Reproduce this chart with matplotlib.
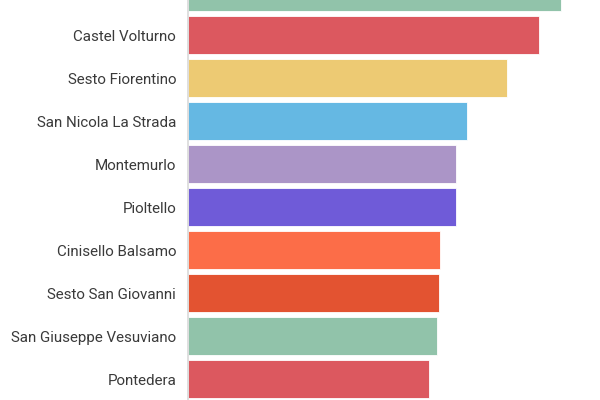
import matplotlib
matplotlib.use("Agg")
import matplotlib.pyplot as plt

plt.rcParams['font.family'] = ['Roboto', 'DejaVu Sans']

# ====== Data ======
cities = [
    "",
    "Castel Volturno",
    "Sesto Fiorentino",
    "San Nicola La Strada",
    "Montemurlo",
    "Pioltello",
    "Cinisello Balsamo",
    "Sesto San Giovanni",
    "San Giuseppe Vesuviano",
    "Pontedera",
]
values = [373, 351, 319, 279, 268, 268, 252, 251, 249, 241]
colors = [
    "#8fc2a8", "#dc555c", "#edc970", "#62b7e3", "#aa93c6",
    "#6c58d8", "#fc6a44", "#e34f2d", "#8fc2a8", "#dc555c",
]

# ====== Draw ======
fig = plt.figure(figsize=(6, 4), dpi=100)
ax = fig.add_axes([188 / 600, 0, 1 - 188 / 600, 1])

pos = list(range(len(cities)))
ax.barh(pos, values, height=0.9, color=colors,
        edgecolor="white", linewidth=0.6, alpha=0.98)

ax.set_yticks(pos)
ax.set_yticklabels(cities, fontsize=10.9, color="#3a3a3a")
ax.tick_params(axis="y", length=0, pad=8.5)
ax.set_xticks([])

# limits after the ticks, otherwise set_yticks widens them again
ax.set_xlim(0, 412)
ax.set_ylim(9.488, 0.186)

for side in ["top", "right", "bottom"]:
    ax.spines[side].set_visible(False)
ax.spines["left"].set_color("#d9d9d9")
ax.spines["left"].set_linewidth(1.2)

fig.savefig("out.png", dpi=100)
